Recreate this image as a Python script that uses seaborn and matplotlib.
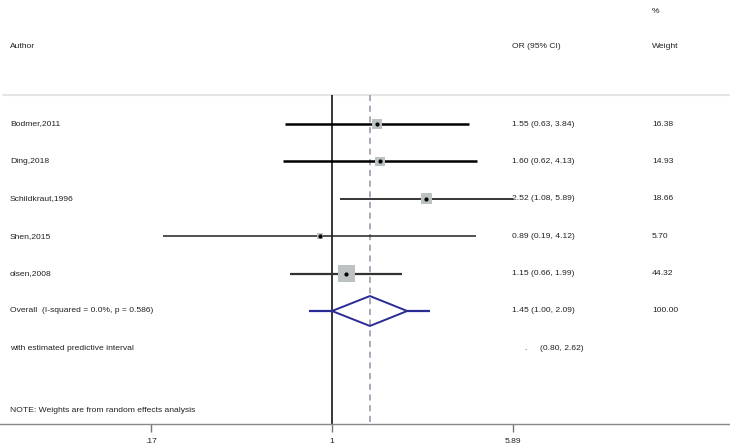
import numpy as np
import matplotlib
matplotlib.use('Agg')
import matplotlib.pyplot as plt
import seaborn as sns

authors = ['Bodmer,2011', 'Ding,2018', 'Schildkraut,1996', 'Shen,2015', 'olsen,2008']
or_est = [1.55, 1.60, 2.52, 0.89, 1.15]
ci_low = [0.63, 0.62, 1.08, 0.19, 0.66]
ci_high = [3.84, 4.13, 5.89, 4.12, 1.99]
weights = [16.38, 14.93, 18.66, 5.70, 44.32]
overall = [1.45, 1.00, 2.09]
overall_weight = 100.00
pred_int = [0.80, 2.62]
overall_label = 'Overall  (I-squared = 0.0%, p = 0.586)'
tick_vals = [0.17, 1, 5.89]
tick_labels = ['.17', '1', '5.89']

sns.set_style('white')
plt.rcParams['font.family'] = ['Liberation Sans', 'DejaVu Sans']

W, H = 730, 448
axis_px = 424
fig = plt.figure(figsize=(W / 100, H / 100), dpi=100)
ax = fig.add_axes([0, (H - axis_px) / H, 1, axis_px / H])
ax.set_xscale('log')
px_per_ln = 102.0
ax.set_xlim(np.exp(-332 / px_per_ln), np.exp((W - 332) / px_per_ln))
row_h = 37.4
bot_y = (axis_px - 124) / row_h
ax.set_ylim(bot_y, -124 / row_h)

tr = ax.get_yaxis_transform()
fs = 6.1
tcol = '#222222'
def px(x):
    return x / W

# header
ax.text(px(10), -2.06, 'Author', transform=tr, fontsize=fs, color=tcol, va='center')
ax.text(px(512), -2.06, 'OR (95% CI)', transform=tr, fontsize=fs, color=tcol, va='center')
ax.text(px(652), -2.06, 'Weight', transform=tr, fontsize=fs, color=tcol, va='center')
ax.text(px(652), -3.0, '%', transform=tr, fontsize=fs, color=tcol, va='center')
sep_y = -29 / row_h
ax.plot([px(3), 1], [sep_y, sep_y], transform=tr, color='#e2e6e6', lw=1.5)

top_y = sep_y
ax.vlines(1, top_y, bot_y, color='black', lw=1.1)
ax.vlines(overall[0], top_y, bot_y, color='#9a90a4', lw=1.1, linestyles=(0, (4, 3)))

rows = np.arange(len(authors))
lws = [1.8, 1.8, 1.1, 1.1, 1.6]
lcols = ['black', 'black', 'black', '#222222', '#333333']
for i in rows:
    ax.hlines(i, ci_low[i], ci_high[i], color=lcols[i], lw=lws[i], zorder=2)
ax.scatter(or_est, rows, s=np.array(weights) * 3.3, marker='s', color='#bcc2c2', zorder=3, linewidths=0)
ax.scatter(or_est, rows, s=9, marker='o', color='black', zorder=4, linewidths=0)

for i in rows:
    ax.text(px(10), i, authors[i], transform=tr, fontsize=fs, color=tcol, va='center')
    ax.text(px(512), i, f'{or_est[i]:.2f} ({ci_low[i]:.2f}, {ci_high[i]:.2f})',
            transform=tr, fontsize=fs, color=tcol, va='center')
    ax.text(px(652), i, f'{weights[i]:.2f}', transform=tr, fontsize=fs, color=tcol, va='center')

# overall diamond + predictive interval
yo = len(authors)
navy = '#2b2b95'
ax.hlines(yo, pred_int[0], overall[1], color=navy, lw=1.6)
ax.hlines(yo, overall[2], pred_int[1], color=navy, lw=1.6)
dh = 0.4
ax.plot([overall[1], overall[0], overall[2], overall[0], overall[1]],
        [yo, yo - dh, yo, yo + dh, yo], color=navy, lw=1.4)
ax.text(px(10), yo, overall_label, transform=tr, fontsize=fs, color=tcol, va='center')
ax.text(px(512), yo, f'{overall[0]:.2f} ({overall[1]:.2f}, {overall[2]:.2f})',
        transform=tr, fontsize=fs, color=tcol, va='center')
ax.text(px(652), yo, f'{overall_weight:.2f}', transform=tr, fontsize=fs, color=tcol, va='center')

yp = yo + 1
ax.text(px(10), yp, 'with estimated predictive interval', transform=tr, fontsize=fs, color=tcol, va='center')
ax.text(px(524), yp, '.', transform=tr, fontsize=fs, color=tcol, va='center')
ax.text(px(540), yp, f'({pred_int[0]:.2f}, {pred_int[1]:.2f})', transform=tr, fontsize=fs, color=tcol, va='center')

ax.text(px(10), (410 - 124) / row_h, 'NOTE: Weights are from random effects analysis',
        transform=tr, fontsize=fs, color=tcol, va='center')

# axis
for s in ['top', 'left', 'right']:
    ax.spines[s].set_visible(False)
ax.spines['bottom'].set_color('#888888')
ax.spines['bottom'].set_linewidth(1.0)
ax.set_yticks([])
ax.set_xticks(tick_vals)
ax.set_xticklabels(tick_labels)
ax.minorticks_off()
ax.tick_params(axis='x', direction='out', length=5.5, width=1, color='#777777',
               labelsize=fs, labelcolor=tcol, pad=4.5, bottom=True)

plt.savefig('out.png', dpi=100)
